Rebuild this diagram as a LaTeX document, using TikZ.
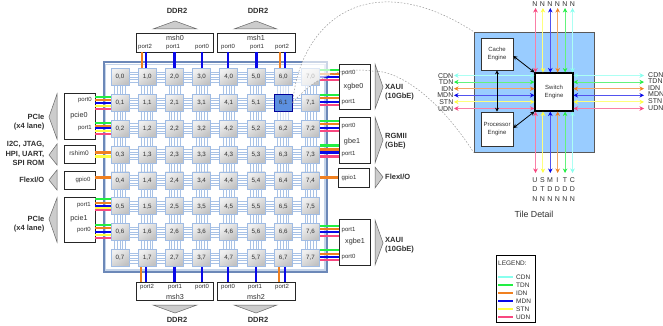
\documentclass[tikz,border=0pt]{standalone}
\usepackage{fontspec}
\setmainfont{Liberation Sans}
\usetikzlibrary{arrows.meta}
\definecolor{cC}{HTML}{88FFEE}
\definecolor{cT}{HTML}{22EE44}
\definecolor{cI}{HTML}{F08020}
\definecolor{cM}{HTML}{0808E8}
\definecolor{cS}{HTML}{FFFF44}
\definecolor{cU}{HTML}{F84880}
\definecolor{frameD}{HTML}{6C88B8}
\definecolor{frameL}{HTML}{C4D4EA}
\definecolor{linkc}{HTML}{A8C2E6}
\definecolor{tileb}{HTML}{A0BCE4}
\definecolor{detailb}{HTML}{99CCFF}
\definecolor{hotc}{HTML}{5C90E0}
\definecolor{txt}{HTML}{303030}
\tikzset{
  ft/.style={font=\fontsize{#1}{#1}\selectfont, text=txt, inner sep=0pt},
  tile/.style={draw=tileb, line width=.8pt, left color=gray!12, right color=gray!48, shading angle=35,
    minimum width=18pt, minimum height=17pt, inner sep=0pt, font=\fontsize{6.2}{6.2}\selectfont, text=txt},
  hot/.style={draw=blue!60!black, line width=1pt, fill=hotc, minimum width=18pt, minimum height=17pt, inner sep=0pt,
    font=\fontsize{6.2}{6.2}\selectfont, text=black!80},
  lnk/.style={draw=linkc, line width=.55pt},
  bus/.style={line width=2.2pt},
  box/.style={draw=black!85, line width=.7pt, fill=white, inner sep=0pt},
  tri/.style={draw=black!60, line width=.5pt, fill=gray!40},
  pt/.style={ft=6},
  nm/.style={ft=7.2},
  lab/.style={font=\fontsize{7.5}{9.2}\selectfont\bfseries, text=txt, inner sep=0pt},
  eng/.style={draw=black!80, line width=.6pt, fill=white, inner sep=0pt, align=center,
    font=\fontsize{6}{8}\selectfont, text=txt},
  dlab/.style={ft=7},
  darr/.style={line width=.9pt, draw=#1!70, arrows={Stealth[length=4.5pt,width=4.5pt,color=#1]-Stealth[length=4.5pt,width=4.5pt,color=#1]}},
  barr/.style={line width=.8pt, draw=black, arrows={Stealth[length=4pt,width=4pt]-Stealth[length=4pt,width=4pt]}},
  callout/.style={draw=gray!80, line width=.5pt, dash pattern=on 1.6pt off 1.6pt},
}
\newcommand{\hbus}[4]{\draw[bus,#1] ([yshift=#4pt]#2) -- ([yshift=#4pt]#2 -| #3);}
\newcommand{\vbus}[4]{\draw[bus,#1] ([xshift=#4pt]#2) -- ([xshift=#4pt]#2 |- #3);}
\begin{document}
\begin{tikzpicture}[x=1pt,y=-1pt]
\useasboundingbox (0,0) rectangle (663,326);
% frame
\draw[frameD, line width=2pt] (103.5,62.5) rectangle (327,272);
\draw[frameL, line width=1.6pt] (105.5,64.5) rectangle (325,270);
% tiles
\foreach \i in {0,...,7}
  \foreach \j in {0,...,7} {
    \pgfmathsetmacro{\xx}{120+27.2*\i}
    \pgfmathsetmacro{\yy}{77+25.86*\j}
    \node[tile] (t\i\j) at (\xx,\yy) {\i,\j};
  }
\node[hot] (t61) at (283.2,102.86) {6,1};
% links
\foreach \j in {0,...,7}
  \foreach \i in {0,...,6} {
    \pgfmathtruncatemacro{\nx}{\i+1}
    \foreach \o in {-5,-2.5,0,2.5,5}
      \draw[lnk] ([yshift=\o pt]t\i\j.east) -- ([yshift=\o pt]t\nx\j.west);
  }
\foreach \i in {0,...,7}
  \foreach \j in {0,...,6} {
    \pgfmathtruncatemacro{\ny}{\j+1}
    \foreach \o in {-5.5,-2.75,0,2.75,5.5}
      \draw[lnk] ([xshift=\o pt]t\i\j.south) -- ([xshift=\o pt]t\i\ny.north);
  }
% mesh controller boxes
\node[box,minimum width=77pt,minimum height=19pt] (msh0) at (174.5,42.5) {};
\node[box,minimum width=77.5pt,minimum height=19pt] (msh1) at (256.2,42.5) {};
\node[box,minimum width=77pt,minimum height=18pt] (msh3) at (174.5,291) {};
\node[box,minimum width=77.5pt,minimum height=18pt] (msh2) at (256.2,291) {};
\node[ft=7.2] (l0) at (175,38) {msh0};
\node[ft=7.2] (l1) at (256,38) {msh1};
\node[ft=7.2] (l3) at (175,296.5) {msh3};
\node[ft=7.2] (l2) at (256,296.5) {msh2};
\node[pt] (p1) at (145,47) {port2};
\node[pt] (p2) at (173,47) {port1};
\node[pt] (p3) at (202,47) {port0};
\node[pt] (p4) at (228,47) {port0};
\node[pt] (p5) at (257,47) {port1};
\node[pt] (p6) at (282,47) {port2};
\node[pt] (p7) at (147,287) {port2};
\node[pt] (p8) at (175,287) {port1};
\node[pt] (p9) at (202,287) {port0};
\node[pt] (p10) at (228,287) {port0};
\node[pt] (p11) at (255,287) {port1};
\node[pt] (p12) at (282,287) {port2};
% left boxes
\node[box,minimum width=31pt,minimum height=46pt] (pcie0) at (79.5,116) {};
\node[box,minimum width=31pt,minimum height=18pt] (rshim0) at (79.5,154) {};
\node[box,minimum width=31pt,minimum height=18pt] (gpio0) at (79.5,180) {};
\node[box,minimum width=31pt,minimum height=45pt] (pcie1) at (79.5,219.5) {};
\node[ft=6,anchor=east] (a1) at (92,100) {port0};
\node[ft=6,anchor=east] (a2) at (92,128) {port1};
\node[nm] (a3) at (79,116) {pcie0};
\node[ft=6.5] (a4) at (79,153) {rshim0};
\node[ft=6] (a5) at (83,180) {gpio0};
\node[ft=6,anchor=east] (a6) at (91,205) {port1};
\node[nm] (a7) at (79,219) {pcie1};
\node[ft=6,anchor=east] (a8) at (91,230) {port0};
% right boxes
\node[box,minimum width=31pt,minimum height=45pt] (xgbe0) at (354.5,86.5) {};
\node[box,minimum width=31pt,minimum height=46pt] (gbe1) at (354.5,140) {};
\node[box,minimum width=31pt,minimum height=19pt] (gpio1) at (353.5,177.5) {};
\node[box,minimum width=31pt,minimum height=46pt] (xgbe1) at (354.5,242) {};
\node[ft=6,anchor=west] (b1) at (341.5,73) {port0};
\node[nm] (b2) at (353.5,87) {xgbe0};
\node[ft=6,anchor=west] (b3) at (341.5,102) {port1};
\node[ft=6,anchor=west] (b4) at (341.5,126) {port0};
\node[nm] (b5) at (352,142) {gbe1};
\node[ft=6,anchor=west] (b6) at (341.5,154) {port1};
\node[ft=6] (b7) at (349,178) {gpio1};
\node[ft=6,anchor=west] (b8) at (341.5,230) {port1};
\node[nm] (b9) at (355,242) {xgbe1};
\node[ft=6,anchor=west] (b10) at (341.5,257) {port0};
% triangles
\draw[tri] (153,29) -- (175,21) -- (197,29) -- cycle;
\draw[tri] (234,29) -- (256,21) -- (277,29) -- cycle;
\draw[tri] (153,305) -- (175,313) -- (197,305) -- cycle;
\draw[tri] (234,305) -- (256,313) -- (277,305) -- cycle;
\draw[tri] (57,94) -- (49,117) -- (57,139) -- cycle;
\draw[tri] (57,144) -- (49,155) -- (57,165) -- cycle;
\draw[tri] (57,170) -- (49,180) -- (57,190) -- cycle;
\draw[tri] (57,198) -- (49,219) -- (57,242) -- cycle;
\draw[tri] (375,64) -- (383,87) -- (375,109) -- cycle;
\draw[tri] (375,117) -- (383,140) -- (375,163) -- cycle;
\draw[tri] (375,167) -- (383,177) -- (375,188) -- cycle;
\draw[tri] (375,220) -- (383,243) -- (375,265) -- cycle;
% outer labels
\node[lab] (d0) at (177,11) {DDR2};
\node[lab] (d1) at (258,11) {DDR2};
\node[lab] (d3) at (177,320) {DDR2};
\node[lab] (d2) at (258,320) {DDR2};
\node[lab,anchor=east,align=right] (e1) at (44.5,122) {PCIe\\(x4 lane)};
\node[lab,anchor=east,align=right] (e2) at (44.5,153.5) {I2C, JTAG,\\HPI, UART,\\SPI ROM};
\node[lab,anchor=east] (e3) at (44.5,180) {FlexI/O};
\node[lab,anchor=east,align=right] (e4) at (44.5,224) {PCIe\\(x4 lane)};
\node[lab,anchor=west,align=left] (f1) at (385,92) {XAUI\\(10GbE)};
\node[lab,anchor=west,align=left] (f2) at (385,141.5) {RGMII\\(GbE)};
\node[lab,anchor=west] (f3) at (385,177) {FlexI/O};
\node[lab,anchor=west,align=left] (f4) at (385,245) {XAUI\\(10GbE)};
% buses: left
\hbus{cT}{t01.west}{pcie0.east}{6}\hbus{cI}{t01.west}{pcie0.east}{3}\hbus{cS}{t01.west}{pcie0.east}{-3}\hbus{cU}{t01.west}{pcie0.east}{-6}\hbus{cM}{t01.west}{pcie0.east}{0}
\hbus{cT}{t02.west}{pcie0.east}{6}\hbus{cI}{t02.west}{pcie0.east}{3}\hbus{cS}{t02.west}{pcie0.east}{-2.5}\hbus{cU}{t02.west}{pcie0.east}{-5}\hbus{cM}{t02.west}{pcie0.east}{0.5}
\hbus{cS}{t03.west}{rshim0.east}{-2}\hbus{cI}{t03.west}{rshim0.east}{2}
\hbus{cI}{t04.west}{gpio0.east}{3}
\hbus{cT}{t05.west}{pcie1.east}{7}\hbus{cI}{t05.west}{pcie1.east}{3.5}\hbus{cS}{t05.west}{pcie1.east}{-1.5}\hbus{cU}{t05.west}{pcie1.east}{-3.5}\hbus{cM}{t05.west}{pcie1.east}{0}
\hbus{cT}{t06.west}{pcie1.east}{7}\hbus{cI}{t06.west}{pcie1.east}{4}\hbus{cS}{t06.west}{pcie1.east}{-3}\hbus{cU}{t06.west}{pcie1.east}{-6}\hbus{cM}{t06.west}{pcie1.east}{0}
% buses: right
\hbus{cT}{t70.east}{xgbe0.west}{7}\hbus{cI}{t70.east}{xgbe0.west}{3}\hbus{cU}{t70.east}{xgbe0.west}{-3}\hbus{cM}{t70.east}{xgbe0.west}{0}
\hbus{cT}{t71.east}{xgbe0.west}{8}\hbus{cI}{t71.east}{xgbe0.west}{5}\hbus{cU}{t71.east}{xgbe0.west}{-2}\hbus{cM}{t71.east}{xgbe0.west}{1}
\hbus{cT}{t72.east}{gbe1.west}{8}\hbus{cI}{t72.east}{gbe1.west}{5}\hbus{cU}{t72.east}{gbe1.west}{-2}\hbus{cM}{t72.east}{gbe1.west}{1}
\hbus{cT}{t73.east}{gbe1.west}{9}\hbus{cI}{t73.east}{gbe1.west}{5}\hbus{cU}{t73.east}{gbe1.west}{-2}\hbus{cM}{t73.east}{gbe1.west}{2}
\hbus{cI}{t74.east}{gpio1.west}{3}
\hbus{cT}{t76.east}{xgbe1.west}{6.5}\hbus{cI}{t76.east}{xgbe1.west}{3.5}\hbus{cU}{t76.east}{xgbe1.west}{-3.5}\hbus{cM}{t76.east}{xgbe1.west}{0}
\hbus{cT}{t77.east}{xgbe1.west}{8}\hbus{cI}{t77.east}{xgbe1.west}{4}\hbus{cU}{t77.east}{xgbe1.west}{-2}\hbus{cM}{t77.east}{xgbe1.west}{1}
% buses: top, bottom
\vbus{cI}{t10.north}{msh0.south}{-5}\vbus{cM}{t10.north}{msh0.south}{-1}
\vbus{cM}{t20.north}{msh0.south}{0}\vbus{cM}{t30.north}{msh0.south}{0}
\vbus{cM}{t40.north}{msh1.south}{-.5}\vbus{cM}{t50.north}{msh1.south}{.5}
\vbus{cI}{t60.north}{msh1.south}{-3}\vbus{cM}{t60.north}{msh1.south}{2}
\vbus{cI}{t17.south}{msh3.north}{-6}\vbus{cM}{t17.south}{msh3.north}{-1}
\vbus{cM}{t27.south}{msh3.north}{0}\vbus{cM}{t37.south}{msh3.north}{0}
\vbus{cM}{t47.south}{msh2.north}{-1}\vbus{cM}{t57.south}{msh2.north}{0}
\vbus{cI}{t67.south}{msh2.north}{-4}\vbus{cM}{t67.south}{msh2.north}{2}
% tile detail
\node[draw=black!65, line width=.8pt, fill=detailb, minimum width=120pt, minimum height=120pt, inner sep=0pt] (detail) at (534,92) {};
\node[eng,minimum width=32pt,minimum height=32pt] (cache) at (497,54) {Cache\\Engine};
\node[eng,minimum width=32pt,minimum height=34pt] (proc) at (497,129) {Processor\\Engine};
\node[draw=black, line width=1.1pt, fill=white, inner sep=0pt, align=center, font=\fontsize{6}{8}\selectfont, text=txt, minimum width=38pt, minimum height=38pt] (sw) at (554,92) {Switch\\Engine};
\coordinate (Ntop) at (554,8);
\coordinate (Nbot) at (554,173);
\coordinate (Wend) at (454,92);
\coordinate (Eend) at (644,92);
\foreach \o/\col in {-18.5/cU,-11.1/cS,-3.7/cM,3.7/cI,11.1/cT,18.5/cC} {
  \draw[darr=\col] ([xshift=\o pt]sw.north) -- ([xshift=\o pt]sw.north |- Ntop);
  \draw[darr=\col] ([xshift=\o pt]sw.south) -- ([xshift=\o pt]sw.south |- Nbot);
}
\foreach \o/\col in {16.5/cC,9.9/cT,3.3/cI,-3.3/cM,-9.9/cS,-16.5/cU} {
  \draw[darr=\col] ([yshift=\o pt]sw.west) -- ([yshift=\o pt]sw.west -| Wend);
  \draw[darr=\col] ([yshift=\o pt]sw.east) -- ([yshift=\o pt]sw.east -| Eend);
}
\draw[barr] (cache.south) -- (proc.north);
\draw[barr] (cache.east |- 0,56) -- (sw.north west);
\draw[barr] (proc.east |- 0,128) -- (sw.south west);
% top, bottom labels
\foreach \x/\n in {535/1,542.4/2,550/3,557.4/4,565/5,572.4/6}
  \node[dlab] (nt\n) at (\x,4) {N};
\foreach \x/\a/\b/\n in {535/U/D/1,542.4/S/T/2,550/M/D/3,557.4/I/D/4,565/T/D/5,572.4/C/D/6} {
  \node[dlab] (ba\n) at (\x,180) {\a};
  \node[dlab] (bb\n) at (\x,189.5) {\b};
  \node[dlab] (bc\n) at (\x,199) {N};
}
\foreach \y/\s in {76/CDN,82.5/TDN,89/IDN,95.5/MDN,102/STN,109/UDN} {
  \node[dlab,anchor=east] (wl\s) at (453.5,\y) {\s};
  \node[dlab,anchor=west] (el\s) at (648,\y-1) {\s};
}
\node[ft=8.8] (cap) at (534,214) {Tile Detail};
% legend
\node[draw=black, line width=.8pt, fill=white, minimum width=39pt, minimum height=67pt, inner sep=0pt] (legend) at (515.5,288.5) {};
\node[ft=6.5,anchor=west] (lh) at (498,263) {LEGEND:};
\foreach \y/\s/\col in {277/CDN/cC,285/TDN/cT,293/IDN/cI,301/MDN/cM,309/STN/cS,317/UDN/cU} {
  \coordinate (ls\s) at (498,\y);
  \node[ft=6.5,anchor=west] (lg\s) at (516,\y) {\s};
  \draw[\col,line width=2.6pt] (ls\s) -- ++(15,0);
}
% fade and dashed call-out
\begin{scope}
\clip (294,30) rectangle (330,110);
\fill[white,opacity=.65] (t61.east) .. controls (300,20) and (370,-35) .. (detail.north west) -- (detail.south west) .. controls (440,100) and (400,70) .. (372,71) .. controls (350,68) and (320,70) .. (t61.east) -- cycle;
\end{scope}
\draw[callout] (t61.east) .. controls (300,20) and (370,-35) .. (detail.north west);
\draw[callout] (t61.east) .. controls (320,70) and (350,68) .. (372,71) .. controls (400,70) and (440,100) .. (detail.south west);
\end{tikzpicture}
\end{document}
